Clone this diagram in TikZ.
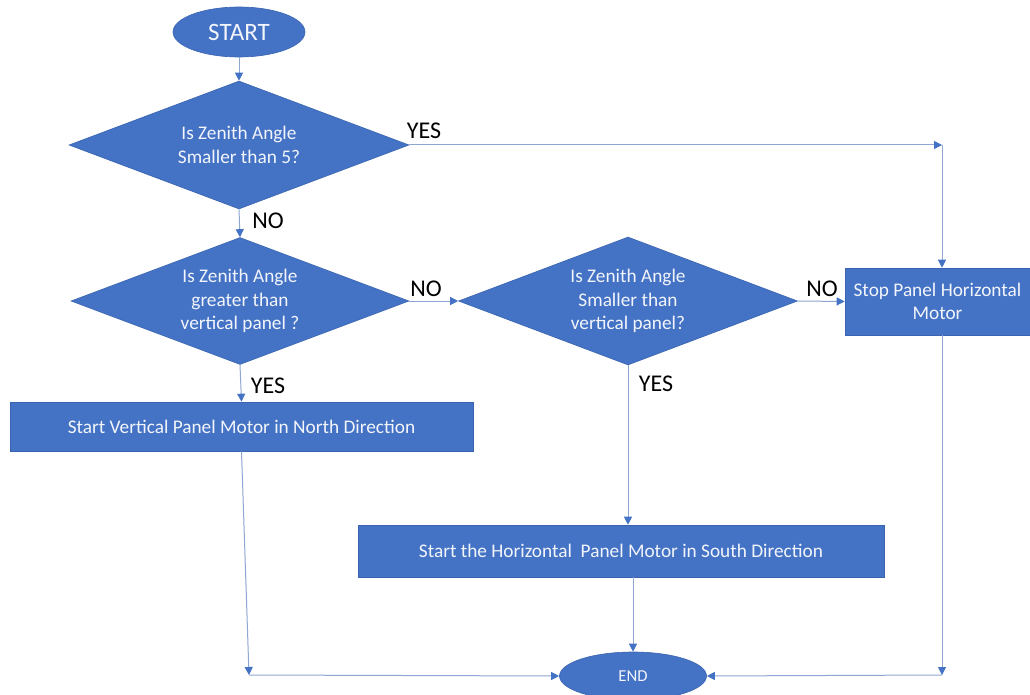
\documentclass[tikz,border=0pt]{standalone}
\usepackage{fontspec}
\setmainfont{Carlito}
\usetikzlibrary{shapes.geometric,arrows.meta}
\definecolor{shapeblue}{HTML}{4472C4}
\definecolor{edgeblue}{HTML}{3A64B0}
\definecolor{linecol}{HTML}{8EA6D2}
\definecolor{tipcol}{HTML}{4472C4}
\definecolor{shapetext}{HTML}{F2F5FB}
\begin{document}
\begin{tikzpicture}[x=1pt,y=-1pt,
  shp/.style={fill=shapeblue, draw=edgeblue, line width=0.6pt, text=shapetext,
    font=\fontsize{19.3}{23.5}\selectfont, align=center, inner sep=0pt},
  decision/.style={shp, diamond, aspect=2.66, minimum width=340pt, minimum height=128pt},
  procbox/.style={shp, rectangle},
  term/.style={shp, ellipse},
  conn/.style={draw=linecol, line width=1pt, -{Triangle[length=8pt,width=8pt,color=tipcol]}},
  lbl/.style={font=\fontsize{24}{26}\selectfont, text=black, inner sep=0pt}]
\useasboundingbox (0,0) rectangle (1030,695);
\fill[white] (0,0) rectangle (1030,695);

\node[term, minimum width=132pt, minimum height=50pt, font=\fontsize{25}{28}\selectfont] (start) at (239,32) {START};
\node[decision] (d1) at (239,145) {Is Zenith Angle\\Smaller than 5?};
\node[decision, minimum width=338pt, minimum height=127pt] (d2) at (240,301) {Is Zenith Angle\\greater than\\vertical panel ?};
\node[decision, minimum width=339pt] (d3) at (628,301) {Is Zenith Angle\\Smaller than\\vertical panel?};
\node[procbox, minimum width=185pt, minimum height=67pt] (stop) at (937.5,301.5) {Stop Panel Horizontal\\Motor};
\node[procbox, minimum width=463pt, minimum height=49pt] (vbox) at (241.5,426.5) {Start Vertical Panel Motor in North Direction};
\node[procbox, minimum width=526pt, minimum height=52pt] (hbox) at (621,551) {Start the Horizontal\ \ Panel Motor in South Direction};
\node[term, minimum width=147pt, minimum height=48pt, font=\fontsize{16.7}{19}\selectfont] (end) at (633,676) {END};

\coordinate (c1) at (942,145);
\coordinate (c2) at (249,675);
\coordinate (c3) at (942,675);

\draw[conn] (start) -- (d1);
\draw[conn] (d1.east) -- (c1);
\draw[conn] (c1) -- (c1 |- stop.north);
\draw[conn] (d1.south) -- (d2.north);
\draw[conn] (d2.east) -- (d3.west);
\draw[conn] (d3.east) -- (stop.west);
\draw[conn] (d2.south) -- (vbox.north);
\draw[conn] (d3.south) -- (d3.south |- hbox.north);
\draw[conn] (vbox.south) -- (c2);
\draw[conn] (c2) -- (end.west);
\draw[conn] (end.north |- hbox.south) -- (end.north);
\draw[conn] (c1 |- stop.south) -- (c3);
\draw[conn] (c3) -- (end.east);

\node[lbl] (l1) at (424,131) {YES};
\node[lbl] (l2) at (268,221) {NO};
\node[lbl] (l3) at (426,289) {NO};
\node[lbl] (l4) at (822,289) {NO};
\node[lbl] (l5) at (268,386) {YES};
\node[lbl] (l6) at (656,384) {YES};
\end{tikzpicture}
\end{document}
